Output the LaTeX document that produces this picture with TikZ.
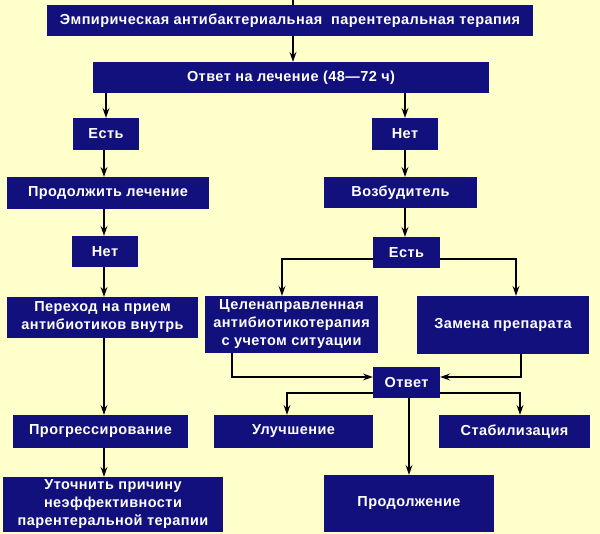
\documentclass[tikz,border=0pt]{standalone}
\usepackage{fontspec}
\setmainfont{Liberation Sans}
\usetikzlibrary{arrows.meta}
\definecolor{bgyel}{RGB}{255,255,204}
\definecolor{navy}{RGB}{18,16,124}
\tikzset{
  box/.style={fill=navy, draw=none, text=white, inner sep=0pt, align=center,
    font=\fontsize{14.5}{18}\selectfont\bfseries\addfontfeatures{LetterSpace=3}},
  link/.style={draw=black, line width=1.2pt},
  arr/.style={link, -{Stealth[length=10pt,width=7pt,inset=3.5pt]}},
}
\begin{document}
\begin{tikzpicture}[x=1pt,y=-1pt]
\fill[bgyel] (0,0) rectangle (600,534);
\useasboundingbox (0,0) rectangle (600,534);
% boxes
\node[box, minimum width=486, minimum height=31] (b1) at (290,20.5) {Эмпирическая антибактериальная \ парентеральная терапия};
\node[box, minimum width=396, minimum height=31] (b2) at (291,77.5) {Ответ на лечение (48—72 ч)};
\node[box, minimum width=66, minimum height=32] (yes1) at (106,134) {Есть};
\node[box, minimum width=66, minimum height=32] (no1) at (405,134) {Нет};
\node[box, minimum width=202, minimum height=32] (cont) at (108,193) {Продолжить лечение};
\node[box, minimum width=153, minimum height=31] (path) at (400.5,192.5) {Возбудитель};
\node[box, minimum width=66, minimum height=31] (no2) at (105,251.5) {Нет};
\node[box, minimum width=67, minimum height=31] (yes2) at (406.5,252.5) {Есть};
\node[box, minimum width=191, minimum height=41] (switch) at (102.5,317.5) {Переход на прием\\антибиотиков внутрь};
\node[box, minimum width=173, minimum height=57] (target) at (291.5,324.5) {Целенаправленная\\антибиотикотерапия\\с учетом ситуации};
\node[box, minimum width=172, minimum height=58] (replace) at (503,325) {Замена препарата};
\node[box, minimum width=67, minimum height=31] (resp) at (406.5,382.5) {Ответ};
\node[box, minimum width=175, minimum height=33] (prog) at (100.5,431.5) {Прогрессирование};
\node[box, minimum width=159, minimum height=33] (impr) at (293.5,431.5) {Улучшение};
\node[box, minimum width=151, minimum height=33] (stab) at (514.5,431.5) {Стабилизация};
\node[box, minimum width=220, minimum height=55] (clar) at (113,504.5) {Уточнить причину\\неэффективности\\парентеральной терапии};
\node[box, minimum width=170, minimum height=57] (contin) at (409,503.5) {Продолжение};
% helper coordinates
\coordinate (topin) at (293,0);
\coordinate (colL) at (104,0);
\coordinate (colR) at (405,0);
\coordinate (kT) at (282,259);
\coordinate (kR) at (516,259);
\coordinate (jT) at (232,377);
\coordinate (jR) at (521,377);
\coordinate (mI) at (287,393);
\coordinate (mS) at (520,393);
\coordinate (cP) at (409,0);
% connectors
\draw[link] (topin) -- (topin |- b1.north);
\draw[arr] (topin |- b1.south) -- (topin |- b2.north);
\draw[arr] (b2.south -| yes1.north) -- (yes1.north);
\draw[arr] (b2.south -| no1.north) -- (no1.north);
\draw[arr] (colL |- yes1.south) -- (colL |- cont.north);
\draw[arr] (colL |- cont.south) -- (colL |- no2.north);
\draw[arr] (colL |- no2.south) -- (colL |- switch.north);
\draw[arr] (colL |- switch.south) -- (colL |- prog.north);
\draw[arr] (colL |- prog.south) -- (colL |- clar.north);
\draw[arr] (colR |- no1.south) -- (colR |- path.north);
\draw[arr] (colR |- path.south) -- (colR |- yes2.north);
\draw[arr] (kT -| yes2.west) -- (kT) -- (kT |- target.north);
\draw[arr] (kR -| yes2.east) -- (kR) -- (kR |- replace.north);
\draw[arr] (jT |- target.south) -- (jT) -- (jT -| resp.west);
\draw[arr] (jR |- replace.south) -- (jR) -- (jR -| resp.east);
\draw[arr] (mI -| resp.west) -- (mI) -- (mI |- impr.north);
\draw[arr] (mS -| resp.east) -- (mS) -- (mS |- stab.north);
\draw[arr] (cP |- resp.south) -- (cP |- contin.north);
\end{tikzpicture}
\end{document}
